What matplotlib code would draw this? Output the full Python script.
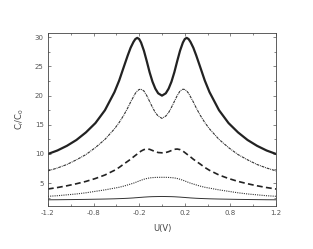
import matplotlib
matplotlib.use('Agg')
from matplotlib import pyplot as plt

# bias voltage U (V)
u = [-1.2, -1.1, -1.0, -0.9, -0.8, -0.7, -0.6, -0.5, -0.45, -0.4, -0.36, -0.33,
     -0.30, -0.28, -0.26, -0.24, -0.22, -0.19, -0.16, -0.13, -0.1, -0.07, -0.04, 0.0,
     0.04, 0.07, 0.1, 0.13, 0.16, 0.19, 0.22, 0.24, 0.26, 0.28, 0.30, 0.33,
     0.36, 0.4, 0.45, 0.5, 0.6, 0.7, 0.8, 0.9, 1.0, 1.1, 1.2]

c_thick = [10.0, 10.6, 11.4, 12.4, 13.7, 15.3, 17.5, 20.6, 22.6, 25.0, 26.9, 28.2,
           29.2, 29.7, 29.9, 29.7, 29.1, 27.7, 25.9, 24.0, 22.4, 21.2, 20.4, 20.0,
           20.4, 21.2, 22.4, 24.0, 25.9, 27.7, 29.1, 29.7, 29.9, 29.7, 29.2, 28.2,
           26.9, 25.0, 22.6, 20.6, 17.5, 15.3, 13.7, 12.4, 11.4, 10.6, 10.0]

c_dashdot = [7.1, 7.6, 8.2, 9.0, 9.9, 11.1, 12.5, 14.3, 15.4, 16.7, 17.9, 18.9,
             19.8, 20.4, 20.8, 21.05, 21.1, 20.8, 20.0, 19.0, 18.0, 17.1, 16.5, 16.1,
             16.5, 17.1, 18.0, 19.0, 20.0, 20.8, 21.1, 21.05, 20.8, 20.4, 19.8, 18.9,
             17.9, 16.7, 15.4, 14.3, 12.5, 11.1, 9.9, 9.0, 8.2, 7.6, 7.1]

c_dashed = [4.0, 4.25, 4.55, 4.9, 5.3, 5.8, 6.4, 7.2, 7.7, 8.3, 8.75, 9.1,
            9.5, 9.75, 10.0, 10.25, 10.5, 10.75, 10.85, 10.8, 10.6, 10.4, 10.25, 10.2,
            10.25, 10.4, 10.6, 10.8, 10.85, 10.75, 10.5, 10.25, 10.0, 9.75, 9.5, 9.1,
            8.75, 8.3, 7.7, 7.2, 6.4, 5.8, 5.3, 4.9, 4.55, 4.25, 4.0]

c_dotted = [2.75, 2.85, 3.0, 3.15, 3.35, 3.6, 3.85, 4.15, 4.3, 4.5, 4.7, 4.85,
            5.0, 5.12, 5.25, 5.38, 5.5, 5.67, 5.8, 5.9, 5.95, 5.98, 6.0, 6.0,
            6.0, 5.98, 5.95, 5.9, 5.8, 5.67, 5.5, 5.38, 5.25, 5.12, 5.0, 4.85,
            4.7, 4.5, 4.3, 4.15, 3.85, 3.6, 3.35, 3.15, 3.0, 2.85, 2.75]

c_thin = [2.15, 2.16, 2.18, 2.2, 2.22, 2.25, 2.28, 2.32, 2.35, 2.38, 2.41, 2.44,
          2.47, 2.5, 2.52, 2.55, 2.57, 2.61, 2.64, 2.67, 2.69, 2.7, 2.71, 2.72,
          2.71, 2.7, 2.69, 2.67, 2.64, 2.61, 2.57, 2.55, 2.52, 2.5, 2.47, 2.44,
          2.41, 2.38, 2.35, 2.32, 2.28, 2.25, 2.22, 2.2, 2.18, 2.16, 2.15]

xticks = [-1.2, -0.72, -0.24, 0.24, 0.72, 1.2]
xticklabels = ['-1.2', '-0.8', '-0.2', '0.2', '0.8', '1.2']

fig = plt.figure(figsize=(3.13, 2.49), dpi=100)
ax = fig.add_axes([0.153, 0.173, 0.729, 0.696])

ax.plot(u, c_thick, color='#222222', lw=1.6)
ax.plot(u, c_dashdot, color='#333333', lw=0.8, dashes=(2.5, 0.8, 0.8, 0.8))
ax.plot(u, c_dashed, color='#222222', lw=1.2, dashes=(3.5, 2))
ax.plot(u, c_dotted, color='#333333', lw=0.8, dashes=(1, 1))
ax.plot(u, c_thin, color='#333333', lw=0.7)

ax.set_xlim(-1.2, 1.2)
ax.set_ylim(1.1, 30.8)
ax.set_xticks(xticks)
ax.set_xticklabels(xticklabels)
ax.set_xticks([-0.96, -0.48, 0.0, 0.48, 0.96], minor=True)
ax.set_yticks([5, 10, 15, 20, 25, 30])
ax.set_yticks([2.5, 7.5, 12.5, 17.5, 22.5, 27.5], minor=True)
ax.tick_params(which='both', direction='in', top=True, right=True,
               labelsize=5, labelcolor='#555555', color='#555555', width=0.5)
ax.tick_params(which='major', length=2.5, pad=3)
ax.tick_params(which='minor', length=1.5)
for s in ax.spines.values():
    s.set_linewidth(0.6)
    s.set_color('#444444')

ax.set_xlabel('U(V)', fontsize=6, color='#444444', labelpad=6)
ax.set_ylabel('C$_i$/C$_0$', fontsize=6, color='#444444', labelpad=6)

fig.savefig('out.png', dpi=100)
